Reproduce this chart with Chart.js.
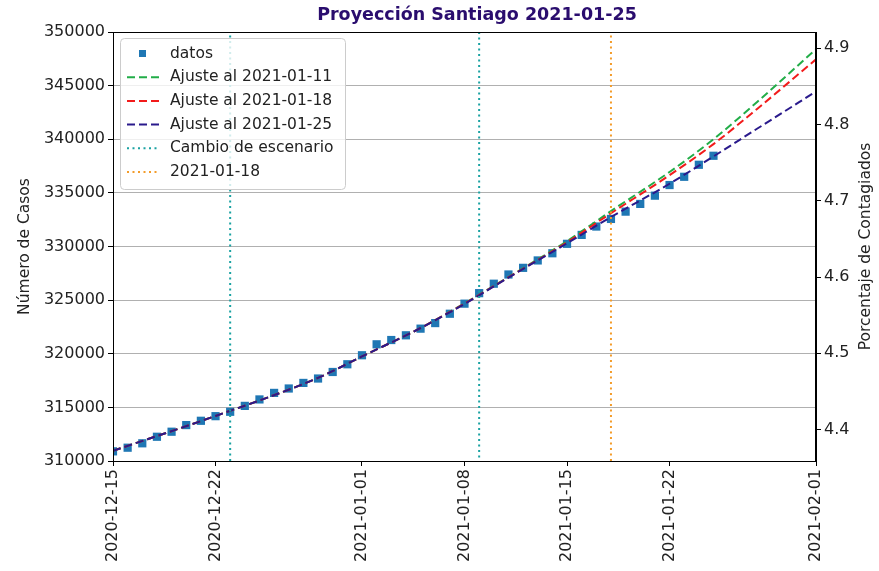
<!DOCTYPE html>
<html>
<head>
<meta charset="utf-8">
<script src="https://cdn.jsdelivr.net/npm/chart.js@4.4.1/dist/chart.umd.min.js"></script>
<style>
    html, body { margin: 0; padding: 0; background: #ffffff; }
    #wrap { width: 879px; height: 571px; }
</style>
</head>
<body>
<div id="wrap"><canvas id="grafico"></canvas></div>
<script>
// Datos diarios (casos acumulados)
var fechaInicio = '2020-12-15';
var fechasDatos = [
    '2020-12-15', '2020-12-16', '2020-12-17', '2020-12-18', '2020-12-19', '2020-12-20', '2020-12-21',
    '2020-12-22', '2020-12-23', '2020-12-24', '2020-12-25', '2020-12-26', '2020-12-27', '2020-12-28',
    '2020-12-29', '2020-12-30', '2020-12-31', '2021-01-01', '2021-01-02', '2021-01-03', '2021-01-04',
    '2021-01-05', '2021-01-06', '2021-01-07', '2021-01-08', '2021-01-09', '2021-01-10', '2021-01-11',
    '2021-01-12', '2021-01-13', '2021-01-14', '2021-01-15', '2021-01-16', '2021-01-17', '2021-01-18',
    '2021-01-19', '2021-01-20', '2021-01-21', '2021-01-22', '2021-01-23', '2021-01-24', '2021-01-25'
];
var casos = [
    310900, 311240, 311650, 312260, 312730, 313350, 313750,
    314180, 314590, 315140, 315740, 316350, 316760, 317280,
    317690, 318300, 319020, 319860, 320880, 321280, 321720,
    322340, 322860, 323730, 324670, 325650, 326530, 327390,
    328010, 328700, 329370, 330250, 331080, 331860, 332570,
    333250, 333970, 334740, 335730, 336500, 337620, 338460
];

// Curvas de ajuste
var fechasAjuste = [
    '2020-12-15', '2020-12-22', '2020-12-29', '2021-01-01', '2021-01-05', '2021-01-08', '2021-01-11',
    '2021-01-15', '2021-01-18', '2021-01-22', '2021-01-25', '2021-01-28', '2021-02-01'
];
var ajuste0111 = [310950, 314200, 317750, 319750, 322400, 324700, 327150, 330500, 333300, 336950, 340000, 343500, 348400];
var ajuste0118 = [310950, 314200, 317750, 319750, 322400, 324680, 327120, 330400, 333100, 336650, 339550, 342850, 347450];
var ajuste0125 = [310950, 314200, 317750, 319750, 322400, 324650, 327100, 330300, 332750, 335850, 338400, 341000, 344450];

var fechasCambio = ['2020-12-23', '2021-01-09'];
var fechaCorte = '2021-01-18';

var ticksFechas = ['2020-12-15', '2020-12-22', '2021-01-01', '2021-01-08', '2021-01-15', '2021-01-22', '2021-02-01'];
var ticksCasos = [310000, 315000, 320000, 325000, 330000, 335000, 340000, 345000, 350000];
var ticksPct = [4.4, 4.5, 4.6, 4.7, 4.8, 4.9];
var casosMin = 310000;
var casosMax = 350000;
var poblacion = 7112000;

function dia(f) {
    return (Date.parse(f) - Date.parse(fechaInicio)) / 86400000;
}

function puntos(fechas, valores) {
    return fechas.map(function (f, i) { return { x: dia(f), y: valores[i] }; });
}

var fuente = 'DejaVu Sans';
var colores = {
    datos: '#1f77b4',
    verde: '#22ad48',
    rojo: '#f21b1b',
    azul: '#2a1a8c',
    cambio: '#1aa2a2',
    corte: '#f39c2a',
    titulo: '#2a0d6e'
};

var dc0 = dia(fechasCambio[0]);
var dc1 = dia(fechasCambio[1]);
var dCorte = dia(fechaCorte);

var datasets = [
    {
        label: 'datos',
        data: puntos(fechasDatos, casos),
        showLine: false,
        pointStyle: 'rect',
        pointRadius: 5.8,
        backgroundColor: colores.datos,
        borderColor: colores.datos,
        borderWidth: 0,
        order: 6,
        tipo: 'marca'
    },
    {
        label: 'Ajuste al 2021-01-11',
        data: puntos(fechasAjuste, ajuste0111),
        borderColor: colores.verde,
        borderWidth: 2,
        borderDash: [8, 4],
        cubicInterpolationMode: 'monotone',
        pointRadius: 0,
        order: 5,
        tipo: 'linea'
    },
    {
        label: 'Ajuste al 2021-01-18',
        data: puntos(fechasAjuste, ajuste0118),
        borderColor: colores.rojo,
        borderWidth: 2,
        borderDash: [8, 4],
        cubicInterpolationMode: 'monotone',
        pointRadius: 0,
        order: 4,
        tipo: 'linea'
    },
    {
        label: 'Ajuste al 2021-01-25',
        data: puntos(fechasAjuste, ajuste0125),
        borderColor: colores.azul,
        borderWidth: 2,
        borderDash: [8, 4],
        cubicInterpolationMode: 'monotone',
        pointRadius: 0,
        order: 3,
        tipo: 'linea'
    },
    {
        label: 'Cambio de escenario',
        data: [
            { x: dc0, y: casosMin }, { x: dc0, y: casosMax },
            { x: (dc0 + dc1) / 2, y: null },
            { x: dc1, y: casosMax }, { x: dc1, y: casosMin }
        ],
        borderColor: colores.cambio,
        borderWidth: 2,
        borderDash: [2, 3.5],
        spanGaps: false,
        pointRadius: 0,
        order: 1,
        tipo: 'linea'
    },
    {
        label: '2021-01-18',
        data: [{ x: dCorte, y: casosMin }, { x: dCorte, y: casosMax }],
        borderColor: colores.corte,
        borderWidth: 2,
        borderDash: [2, 3.5],
        pointRadius: 0,
        order: 2,
        tipo: 'linea'
    }
];

// Titulo, marco, eje derecho y leyenda
var extras = {
    id: 'extras',
    afterDraw: function (chart) {
        var ctx = chart.ctx;
        var a = chart.chartArea;
        ctx.save();

        // marco
        ctx.strokeStyle = '#000000';
        ctx.lineWidth = 1;
        ctx.setLineDash([]);
        ctx.strokeRect(Math.round(a.left) + 0.5, Math.round(a.top) + 0.5,
            Math.round(a.right - a.left) - 1, Math.round(a.bottom - a.top));

        // titulo
        ctx.fillStyle = colores.titulo;
        ctx.font = 'bold 17.5px "' + fuente + '"';
        ctx.textAlign = 'center';
        ctx.textBaseline = 'middle';
        ctx.fillText('Proyección Santiago 2021-01-25', 477, 15);

        // titulo eje derecho
        ctx.save();
        ctx.translate(866, (a.top + a.bottom) / 2);
        ctx.rotate(-Math.PI / 2);
        ctx.fillStyle = '#222222';
        ctx.font = '15.5px "' + fuente + '"';
        ctx.fillText('Porcentaje de Contagiados', 0, 0);
        ctx.restore();

        // leyenda
        var lx = 120, ly = 38, lw = 225, lh = 151;
        ctx.fillStyle = 'rgba(255,255,255,0.8)';
        ctx.strokeStyle = '#cccccc';
        ctx.beginPath();
        ctx.roundRect(lx + 0.5, ly + 0.5, lw, lh, 4);
        ctx.fill();
        ctx.stroke();

        ctx.font = '15.5px "' + fuente + '"';
        ctx.textAlign = 'left';
        ctx.textBaseline = 'middle';
        chart.data.datasets.forEach(function (ds, i) {
            var y = ly + 15.5 + i * 23.7;
            if (ds.tipo === 'marca') {
                ctx.fillStyle = ds.backgroundColor;
                ctx.fillRect(139, y - 3.5, 7, 7);
            } else {
                ctx.strokeStyle = ds.borderColor;
                ctx.lineWidth = ds.borderWidth;
                ctx.setLineDash(ds.borderDash);
                ctx.beginPath();
                ctx.moveTo(127, y);
                ctx.lineTo(159, y);
                ctx.stroke();
                ctx.setLineDash([]);
            }
            ctx.fillStyle = '#222222';
            ctx.fillText(ds.label, 170, y);
        });
        ctx.restore();
    }
};

var ticksFont = { family: fuente, size: 16 };

new Chart(document.getElementById('grafico'), {
    type: 'line',
    data: { datasets: datasets },
    options: {
        responsive: true,
        maintainAspectRatio: false,
        animation: false,
        events: [],
        layout: { padding: { top: 32, left: 0, right: 0, bottom: 0 } },
        plugins: {
            legend: { display: false },
            title: { display: false },
            tooltip: { enabled: false }
        },
        scales: {
            x: {
                type: 'linear',
                min: 0,
                max: dia('2021-02-01'),
                grid: { drawOnChartArea: false, tickLength: 5, tickColor: '#000000' },
                border: { color: '#000000' },
                afterBuildTicks: function (scale) {
                    scale.ticks = ticksFechas.map(function (f) { return { value: dia(f) }; });
                },
                afterFit: function (scale) { scale.height = 110; },
                ticks: {
                    autoSkip: false,
                    maxRotation: 90,
                    minRotation: 90,
                    padding: 3,
                    color: '#222222',
                    font: ticksFont,
                    callback: function (value, index) { return ticksFechas[index]; }
                }
            },
            y: {
                position: 'left',
                min: casosMin,
                max: casosMax,
                grid: { color: '#b0b0b0', lineWidth: 1, tickLength: 5, tickColor: '#000000' },
                border: { color: '#000000' },
                afterBuildTicks: function (scale) {
                    scale.ticks = ticksCasos.map(function (v) { return { value: v }; });
                },
                afterFit: function (scale) { scale.width = 113; },
                ticks: {
                    padding: 3,
                    color: '#222222',
                    font: ticksFont,
                    callback: function (value) { return String(value); }
                },
                title: {
                    display: true,
                    text: 'Número de Casos',
                    color: '#222222',
                    font: { family: fuente, size: 15.5 },
                    padding: { top: 16, bottom: 0 }
                }
            },
            y1: {
                position: 'right',
                min: casosMin / poblacion * 100,
                max: casosMax / poblacion * 100,
                grid: { drawOnChartArea: false, tickLength: 5, tickColor: '#000000' },
                border: { color: '#000000' },
                afterBuildTicks: function (scale) {
                    scale.ticks = ticksPct.map(function (v) { return { value: v }; });
                },
                afterFit: function (scale) { scale.width = 63; },
                ticks: {
                    padding: 3,
                    color: '#222222',
                    font: ticksFont,
                    callback: function (value) { return value.toFixed(1); }
                }
            }
        }
    },
    plugins: [extras]
});
</script>
</body>
</html>
